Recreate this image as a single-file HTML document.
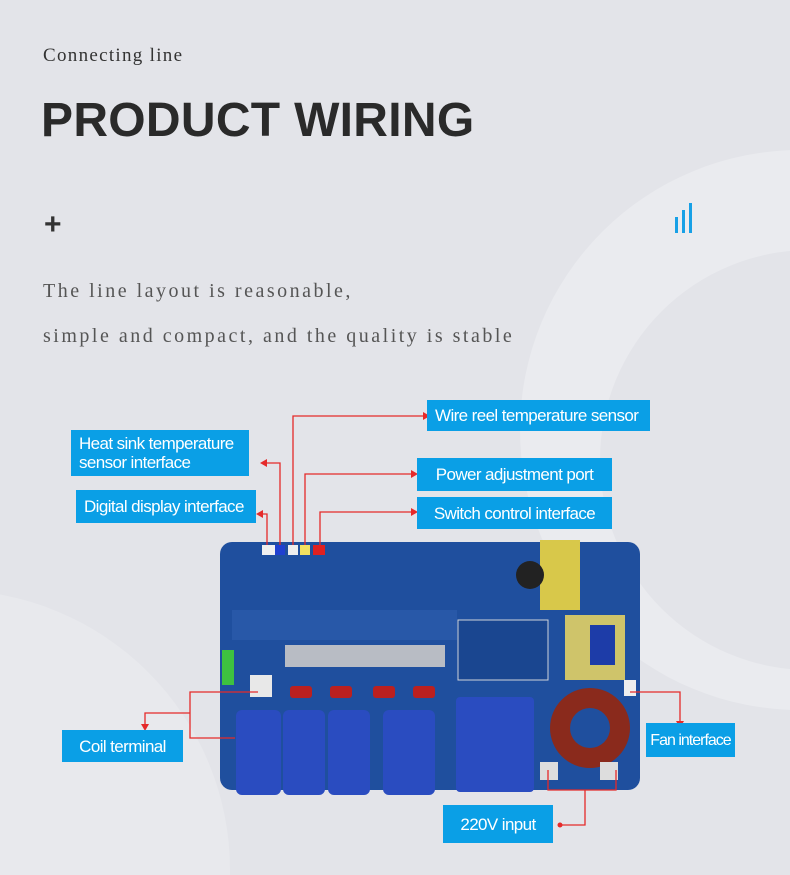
<!DOCTYPE html>
<html style="width:790px;height:875px;overflow:hidden"><head><meta charset="utf-8"><style>
html,body{margin:0;padding:0}
#w{width:790px;height:875px;overflow:hidden;background:#e3e4e9;position:relative;font-family:"Liberation Sans",sans-serif}
.a{position:absolute}
.lab{position:absolute;background:#0a9fe6;color:#fff;font-size:17px;letter-spacing:-0.6px;line-height:19px;padding:0 8px;box-sizing:border-box;display:flex;align-items:center;white-space:nowrap}
</style></head><body><div id="w">
<svg class="a" style="left:0;top:0" width="790" height="875">
<circle cx="800" cy="430" r="280" fill="#eaebef"/>
<circle cx="810" cy="460" r="210" fill="#e3e4e9"/>
<circle cx="-50" cy="870" r="280" fill="#e8e9ed"/>
</svg>
<div class="a" style="left:43px;top:45px;font-family:'Liberation Serif',serif;font-size:19px;color:#333;letter-spacing:1.3px">Connecting line</div>
<div class="a" style="left:41px;top:93px;font-size:48px;font-weight:bold;color:#2a2a2a;letter-spacing:0.3px">PRODUCT WIRING</div>
<div class="a" style="left:44px;top:208px;font-size:30px;font-weight:bold;color:#333">+</div>
<div class="a" style="left:675px;top:217px;width:3px;height:16px;background:#17a0e6"></div>
<div class="a" style="left:682px;top:210px;width:3px;height:23px;background:#17a0e6"></div>
<div class="a" style="left:689px;top:203px;width:3px;height:30px;background:#17a0e6"></div>
<div class="a" style="left:43px;top:280px;font-family:'Liberation Serif',serif;font-size:20px;color:#555;letter-spacing:2.5px">The line layout is reasonable,</div>
<div class="a" style="left:43px;top:325px;font-family:'Liberation Serif',serif;font-size:20px;color:#555;letter-spacing:2.5px">simple and compact, and the quality is stable</div>

<svg class="a" style="left:0;top:0" width="790" height="875">
<rect x="220" y="542" width="420" height="248" rx="12" fill="#1f4f9e"/>
<rect x="232" y="610" width="225" height="30" fill="#2858a8"/>
<rect x="285" y="645" width="160" height="22" fill="#b8bcc4"/>
<rect x="458" y="620" width="90" height="60" fill="#1a4690" stroke="#cfd3da"/>
<rect x="540" y="540" width="40" height="70" fill="#d8c84a"/>
<rect x="565" y="615" width="60" height="65" fill="#cfc46a"/>
<rect x="590" y="625" width="25" height="40" fill="#1d3ca8"/>
<circle cx="530" cy="575" r="14" fill="#222"/>
<rect x="262" y="545" width="14" height="10" fill="#f0f0f0"/>
<rect x="275" y="545" width="10" height="10" fill="#2040d0"/>
<rect x="288" y="545" width="10" height="10" fill="#eee"/>
<rect x="300" y="545" width="10" height="10" fill="#f2e060"/>
<rect x="313" y="545" width="12" height="10" fill="#e02020"/>
<rect x="222" y="650" width="12" height="35" fill="#3ec040"/>
<rect x="250" y="675" width="22" height="22" fill="#e8e8e8"/>
<rect x="240" y="735" width="10" height="12" fill="#ddd"/>
<g fill="#bb2020"><rect x="290" y="686" width="22" height="12" rx="3"/><rect x="330" y="686" width="22" height="12" rx="3"/><rect x="373" y="686" width="22" height="12" rx="3"/><rect x="413" y="686" width="22" height="12" rx="3"/></g>
<g fill="#2a4cc0"><rect x="236" y="710" width="45" height="85" rx="6"/><rect x="283" y="710" width="42" height="85" rx="6"/><rect x="328" y="710" width="42" height="85" rx="6"/><rect x="383" y="710" width="52" height="85" rx="6"/><rect x="456" y="697" width="78" height="95" rx="4"/></g>
<circle cx="590" cy="728" r="40" fill="#8a2a1c"/><circle cx="590" cy="728" r="20" fill="#1f4f9e"/>
<rect x="540" y="762" width="18" height="18" fill="#ddd"/><rect x="600" y="762" width="18" height="18" fill="#ddd"/>
<rect x="624" y="680" width="12" height="16" fill="#eee"/>
<g stroke="#e52a2a" stroke-width="1.3" fill="none">
<path d="M267 545V514H260"/><path d="M280 545V463H264"/><path d="M293 545V416H426"/><path d="M305 545V474H414"/><path d="M320 545V512H414"/>
<path d="M258 692H190V738H235M190 713H145V727"/>
<path d="M630 692H680V724"/>
<path d="M548 770V790H616V770M585 790V825H560"/>
</g>
<g fill="#e52a2a">
<path d="M256 514l7-4v8z"/><path d="M260 463l7-4v8z"/><path d="M430 416l-7-4v8z"/><path d="M418 474l-7-4v8z"/><path d="M418 512l-7-4v8z"/>
<path d="M145 731l-4-7h8z"/><path d="M680 728l-4-7h8z"/><circle cx="560" cy="825" r="2.5"/>
</g>
</svg>
<div class="lab" style="left:427px;top:400px;width:223px;height:31px">Wire reel temperature sensor</div>
<div class="lab" style="left:71px;top:430px;width:178px;height:46px;white-space:normal">Heat sink temperature sensor interface</div>
<div class="lab" style="left:76px;top:490px;width:180px;height:33px">Digital display interface</div>
<div class="lab" style="left:417px;top:458px;width:195px;height:33px;justify-content:center">Power adjustment port</div>
<div class="lab" style="left:417px;top:497px;width:195px;height:32px;justify-content:center">Switch control interface</div>
<div class="lab" style="left:62px;top:730px;width:121px;height:32px;justify-content:center">Coil terminal</div>
<div class="lab" style="left:646px;top:723px;width:89px;height:34px;padding:0;justify-content:center;font-size:16px;letter-spacing:-1px">Fan interface</div>
<div class="lab" style="left:443px;top:805px;width:110px;height:38px;justify-content:center">220V input</div>
</div></body></html>
